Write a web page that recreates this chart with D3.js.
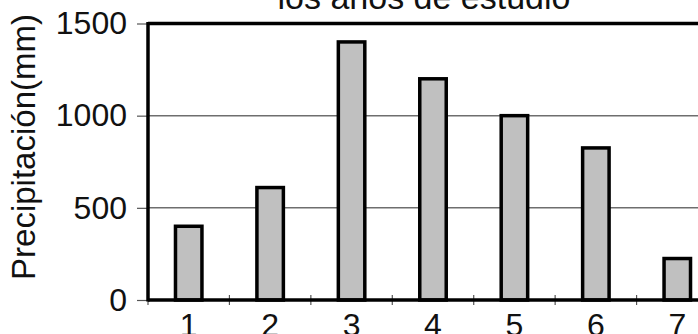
<!doctype html>
<html>
<head>
<meta charset="utf-8">
<script src="https://d3js.org/d3.v7.min.js"></script>
<style>
  body { margin: 0; background: #fff; }
  svg { display: block; font-family: "Liberation Sans", Arial, sans-serif; }
</style>
</head>
<body>
<svg width="698" height="334" id="chart"></svg>
<script>
// data
var years = ["1", "2", "3", "4", "5", "6", "7"];
var rain = [400, 610, 1400, 1200, 1000, 825, 225];
var yTicks = [0, 500, 1000, 1500];
var title = "los años de estudio";
var yLabel = "Precipitación(mm)";

var svg = d3.select("#chart"),
    plotLeft = 148, plotRight = 718, plotTop = 23.5, plotBottom = 300;

var xScale = d3.scaleBand().domain(years).range([plotLeft, plotRight])
        .paddingInner(0.675).paddingOuter(0.3375),
    yScale = d3.scaleLinear().domain([0, 1500]).range([plotBottom, plotTop]);

// gridlines
svg.append("g")
  .selectAll("line")
  .data(yTicks.filter(function (d) { return d > 0 && d < 1500; }))
  .enter()
  .append("line")
  .attr("x1", plotLeft).attr("x2", plotRight)
  .attr("y1", function (d) { return yScale(d); })
  .attr("y2", function (d) { return yScale(d); })
  .style("stroke", "#6e6e6e")
  .style("stroke-width", 1.5);

// y axis, ticks go left
var yAxis = svg.append("g")
  .attr("transform", "translate(" + plotLeft + ",0)")
  .call(d3.axisLeft(yScale).tickValues(yTicks).tickFormat(d3.format("d")).tickSize(11).tickPadding(10));
yAxis.select(".domain").remove();
yAxis.selectAll(".tick line").style("stroke", "#555").style("stroke-width", 1.2);
yAxis.selectAll(".tick text")
  .attr("font-family", null)
  .style("font-size", "32px")
  .style("fill", "#111");
yAxis.attr("font-family", null).attr("font-size", null);

// bars
svg.append("g")
  .selectAll("rect")
  .data(rain)
  .enter()
  .append("rect")
  .attr("x", function (d, i) { return xScale(years[i]); })
  .attr("y", function (d) { return yScale(d); })
  .attr("width", xScale.bandwidth())
  .attr("height", function (d) { return plotBottom - yScale(d); })
  .style("fill", "#c0c0c0")
  .style("stroke", "#000")
  .style("stroke-width", 3.5);

// x axis: small marks at category boundaries
var step = xScale.step();
var bounds = d3.range(0, years.length + 1).map(function (i) { return plotLeft + i * step; });
svg.append("g")
  .selectAll("line")
  .data(bounds)
  .enter()
  .append("line")
  .attr("x1", function (d) { return d; }).attr("x2", function (d) { return d; })
  .attr("y1", plotBottom - 5).attr("y2", plotBottom + 5)
  .style("stroke", "#555")
  .style("stroke-width", 1.2);

svg.append("g")
  .selectAll("text")
  .data(years)
  .enter()
  .append("text")
  .attr("x", function (d) { return xScale(d) + xScale.bandwidth() / 2; })
  .attr("y", 336)
  .attr("text-anchor", "middle")
  .style("font-size", "32px")
  .style("fill", "#111")
  .text(function (d) { return d; });

// frame: left, top, bottom
svg.append("line").attr("x1", plotLeft).attr("x2", plotLeft).attr("y1", plotTop - 1.5).attr("y2", plotBottom + 1.5)
  .style("stroke", "#000").style("stroke-width", 3.5);
svg.append("line").attr("x1", plotLeft).attr("x2", plotRight).attr("y1", plotTop).attr("y2", plotTop)
  .style("stroke", "#000").style("stroke-width", 3.5);
svg.append("line").attr("x1", plotLeft).attr("x2", plotRight).attr("y1", plotBottom).attr("y2", plotBottom)
  .style("stroke", "#000").style("stroke-width", 3.5);

// title (cut off at the top)
svg.append("text")
  .attr("x", 424)
  .attr("y", 9)
  .attr("text-anchor", "middle")
  .style("font-size", "34px")
  .style("fill", "#111")
  .text(title);

// y label
svg.append("text")
  .attr("text-anchor", "middle")
  .attr("transform", "translate(35,147)rotate(-90)")
  .style("font-size", "33px")
  .style("fill", "#111")
  .text(yLabel);
</script>
</body>
</html>
